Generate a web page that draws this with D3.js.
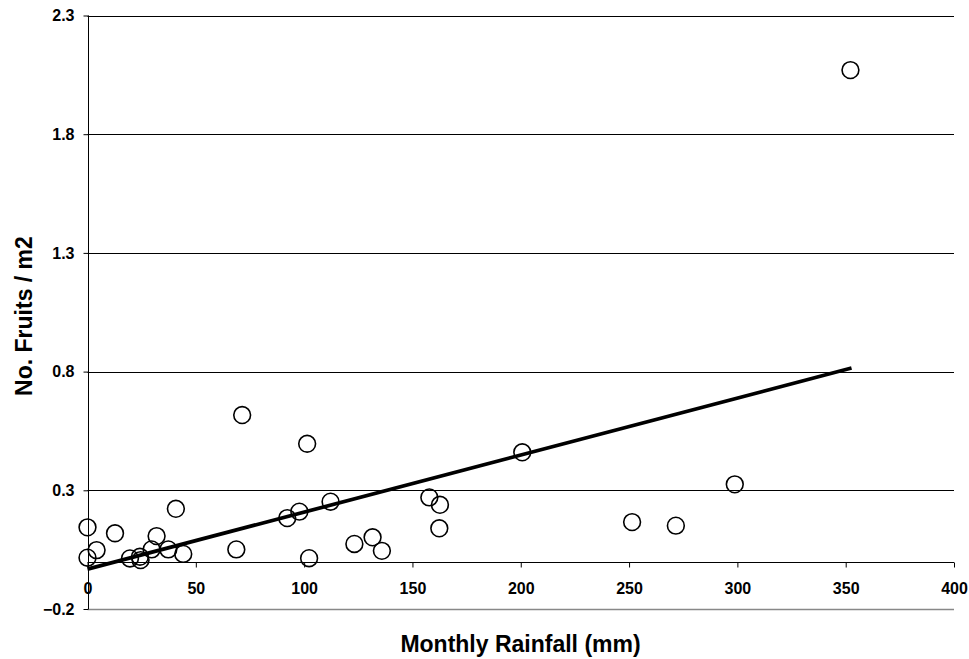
<!DOCTYPE html>
<html>
<head>
<meta charset="utf-8">
<script src="https://cdn.jsdelivr.net/npm/d3@7"></script>
<style>
  body { margin: 0; background: #fff; }
  text { font-family: Arial, "Liberation Sans", sans-serif; font-weight: bold; fill: #000; }
</style>
</head>
<body>
<svg id="chart" width="969" height="659"></svg>
<script>
// Data
const rainfall = [0, 0, 4.2, 12.7, 19.6, 24.2, 24.5, 29.6, 31.9, 37.3, 40.8, 44.2,
  68.7, 71.4, 92.2, 97.8, 101.4, 102.3, 112.2, 123.2, 131.6, 135.9,
  157.8, 162.7, 162.4, 200.7, 251.4, 271.6, 298.8, 352.2];
const fruits = [0.144, 0.016, 0.048, 0.119, 0.013, 0.020, 0.006, 0.051, 0.107, 0.051, 0.222, 0.032,
  0.051, 0.617, 0.183, 0.210, 0.496, 0.014, 0.252, 0.074, 0.102, 0.045,
  0.270, 0.239, 0.140, 0.460, 0.166, 0.151, 0.325, 2.070];
const trendX = [0, 352.7];
const trendY = [-0.032, 0.815];
const xTicks = [0, 50, 100, 150, 200, 250, 300, 350, 400];
const yTicks = [-0.2, 0.3, 0.8, 1.3, 1.8, 2.3];
const xTitle = "Monthly Rainfall (mm)";
const yTitle = "No. Fruits / m2";

const svg = d3.select("#chart");
const pL = 87.5, pR = 954, pT = 15.5, pB = 609;
const x = d3.scaleLinear().domain([0, 400]).range([pL, pR]);
const y = d3.scaleLinear().domain([-0.2, 2.3]).range([pB, pT]);
const FONT = "Arial, 'Liberation Sans', sans-serif";

// Gridlines
svg.append("g").selectAll("line").data(yTicks.filter(v => v > -0.2)).join("line")
  .attr("x1", pL).attr("x2", pR)
  .attr("y1", d => Math.round(y(d)) + 0.5).attr("y2", d => Math.round(y(d)) + 0.5)
  .attr("stroke", "#000").attr("stroke-width", 1);

// bottom border (gray)
svg.append("line").attr("x1", pL).attr("x2", pR)
  .attr("y1", Math.round(y(-0.2)) + 0.5).attr("y2", Math.round(y(-0.2)) + 0.5)
  .attr("stroke", "#888").attr("stroke-width", 1.5);

// Y axis
const yAxis = d3.axisLeft(y).tickValues(yTicks).tickFormat(d3.format(".1f")).tickSize(5).tickPadding(9);
const gy = svg.append("g").attr("transform", `translate(${Math.round(pL) + 0.5},0)`).call(yAxis)
  .attr("font-size", 16).attr("font-family", FONT);
gy.select(".domain").attr("stroke", "#000").attr("d", `M0,${pT}V${pB}`);
gy.selectAll(".tick line").attr("stroke", "#000");
gy.selectAll(".tick text").attr("font-size", 16).attr("font-family", FONT)
  .attr("font-weight", "bold").attr("fill", "#000");

// X axis at y = 0
const xAxis = d3.axisBottom(x).tickValues(xTicks).tickFormat(d3.format("d")).tickSize(5).tickPadding(15);
const gx = svg.append("g").attr("transform", `translate(0,${Math.round(y(0)) + 0.5})`).call(xAxis)
  .attr("font-size", 16).attr("font-family", FONT);
gx.select(".domain").attr("stroke", "#000").attr("d", `M${pL},0H${pR}`);
gx.selectAll(".tick line").attr("stroke", "#000");
gx.selectAll(".tick text").attr("font-size", 16).attr("font-family", FONT)
  .attr("font-weight", "bold").attr("fill", "#000");

// Points
svg.append("g").selectAll("circle").data(rainfall.map((r, i) => [r, fruits[i]])).join("circle")
  .attr("cx", d => x(d[0])).attr("cy", d => y(d[1])).attr("r", 8.4)
  .attr("fill", "none").attr("stroke", "#000").attr("stroke-width", 1.6);

// Trend line
svg.append("line")
  .attr("x1", x(trendX[0])).attr("y1", y(trendY[0]))
  .attr("x2", x(trendX[1])).attr("y2", y(trendY[1]))
  .attr("stroke", "#000").attr("stroke-width", 3.7);

// Titles
svg.append("text").attr("x", 520.5).attr("y", 652).attr("text-anchor", "middle")
  .attr("font-size", 23).text(xTitle);
svg.append("text").attr("transform", "translate(32,316) rotate(-90)").attr("text-anchor", "middle")
  .attr("font-size", 23).text(yTitle);
</script>
</body>
</html>
